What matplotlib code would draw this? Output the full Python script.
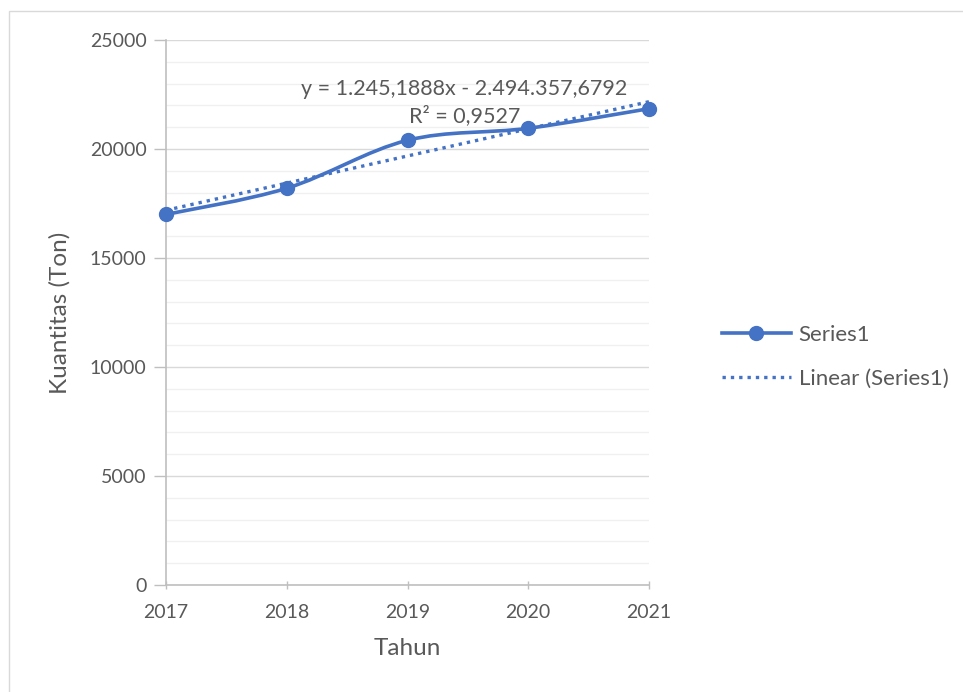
import numpy as np
import matplotlib.pyplot as plt
from matplotlib.path import Path
from matplotlib.patches import PathPatch, Rectangle
from matplotlib.lines import Line2D

# data
years = [2017, 2018, 2019, 2020, 2021]
kuantitas = [17000, 18200, 20400, 20950, 21850]
eq_text = "y = 1.245,1888x - 2.494.357,6792\nR² = 0,9527"

blue = '#4472C4'
txt = '#595959'

plt.rcParams['font.family'] = ['Lato', 'DejaVu Sans']

fig = plt.figure(figsize=(9.63, 6.92), dpi=100)
ax = fig.add_axes([166 / 963, 1 - 585 / 692, 483 / 963, 545 / 692])

# gridlines
for v in range(0, 25001, 1000):
    if v % 5000 == 0:
        ax.axhline(v, color='#D9D9D9', lw=1, zorder=0)
    else:
        ax.axhline(v, color='#F0F0F0', lw=1, zorder=0)


def smooth_path(xs, ys):
    # Excel-like smoothed line (Catmull-Rom as cubic Bezier)
    pts = np.column_stack([xs, ys]).astype(float)
    verts = [pts[0]]
    codes = [Path.MOVETO]
    n = len(pts)
    for i in range(n - 1):
        p0 = pts[i - 1] if i > 0 else pts[i]
        p1 = pts[i]
        p2 = pts[i + 1]
        p3 = pts[i + 2] if i + 2 < n else pts[i + 1]
        c1 = p1 + (p2 - p0) / 6
        c2 = p2 - (p3 - p1) / 6
        verts += [c1, c2, p2]
        codes += [Path.CURVE4] * 3
    return Path(verts, codes)


dots = (0, (1, 1.5))

ax.add_patch(PathPatch(smooth_path(years, kuantitas), fill=False,
                       edgecolor=blue, lw=2.6, zorder=3, capstyle='round',
                       clip_on=False))
ax.plot(years, kuantitas, 'o', color=blue, ms=10, zorder=4, clip_on=False)

# linear trend
coef = np.polyfit(years, kuantitas, 1)
xs = np.array([years[0], years[-1]])
ax.plot(xs, np.polyval(coef, xs), linestyle=dots, color=blue,
        lw=2.4, zorder=2, clip_on=False)

ax.text(2019.47, 22140, eq_text, ha='center', va='center', fontsize=15.5,
        color=txt, linespacing=1.35, zorder=5)

ax.set_xlim(2017, 2021)
ax.set_ylim(0, 25000)
ax.set_xticks(years)
ax.set_yticks(range(0, 25001, 5000))
ax.tick_params(axis='y', colors='#BFBFBF', labelcolor=txt, labelsize=14,
               length=9, width=1, direction='out', pad=5)
ax.tick_params(axis='x', colors='#BFBFBF', labelcolor=txt, labelsize=14,
               length=6, width=1, direction='inout', pad=11)
for s in ['top', 'right']:
    ax.spines[s].set_visible(False)
for s in ['left', 'bottom']:
    ax.spines[s].set_color('#BFBFBF')
    ax.spines[s].set_linewidth(1.2)
ax.set_xlabel('Tahun', fontsize=17.5, color=txt, labelpad=12)
ax.set_ylabel('Kuantitas (Ton)', fontsize=17.5, color=txt, labelpad=14)

handles = [
    Line2D([], [], color=blue, lw=2.6, marker='o', ms=10),
    Line2D([], [], color=blue, lw=2.4, linestyle=dots),
]
fig.legend(handles, ['Series1', 'Linear (Series1)'], loc='center left',
           bbox_to_anchor=(702 / 963, 1 - 357 / 692), frameon=False,
           fontsize=16, labelcolor=txt, handlelength=3.1, handletextpad=0.35,
           labelspacing=1.1)

fig.patches.append(Rectangle((9 / 963, -0.05), 1.0, 1.05 - 11 / 692,
                             transform=fig.transFigure, fill=False,
                             edgecolor='#D9D9D9', lw=1))

fig.savefig('out.png', dpi=100)
